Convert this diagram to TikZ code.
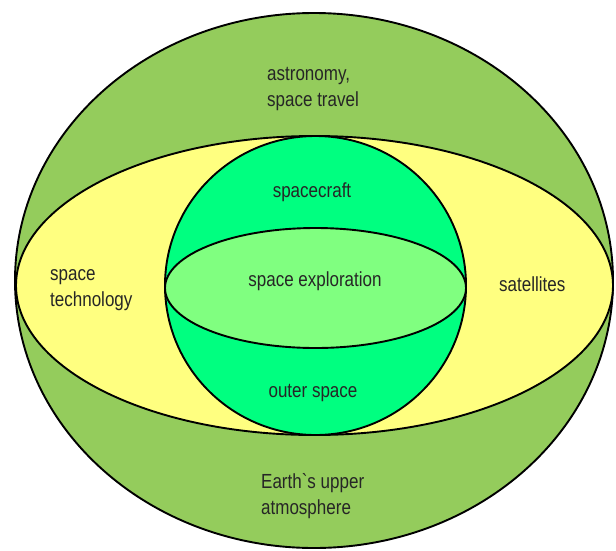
\documentclass[tikz,border=0pt]{standalone}
\usepackage{fontspec}
\usepackage{graphicx}
\setmainfont{Liberation Sans}[Ligatures=TeXOff]
\usetikzlibrary{shapes.geometric}
\definecolor{outergreen}{RGB}{148,204,92}
\definecolor{paleyellow}{RGB}{255,255,128}
\definecolor{springg}{RGB}{0,255,128}
\definecolor{lightg}{RGB}{128,255,128}
\newcommand{\vtext}[1]{\scalebox{1}[1.2]{\begin{tabular}[t]{@{}l@{}}#1\end{tabular}}}
\tikzset{
  region/.style={ellipse, draw=black, line width=1.9pt, inner sep=0pt},
  lbl/.style={font=\fontsize{17}{21.7}\selectfont, text=black!85, inner sep=0pt}
}
\begin{document}
\begin{tikzpicture}[x=1pt,y=-1pt]
\useasboundingbox (0,0) rectangle (616,550);
\node[region, fill=outergreen, minimum width=598pt, minimum height=535pt] (outer) at (314,280.5) {};
\node[region, fill=paleyellow, minimum width=597pt, minimum height=299pt] (tech) at (314.5,285.5) {};
\node[region, fill=springg, minimum width=301pt, minimum height=299pt] (craft) at (315.5,285.5) {};
\node[region, fill=lightg, minimum width=301pt, minimum height=120pt] (explore) at (315.5,288) {};
\node[lbl, anchor=base west] (astro) at (267,80) {\vtext{astronomy,\\space travel}};
\node[lbl, anchor=base] (spacecraft) at (312,197) {\vtext{spacecraft}};
\node[lbl, anchor=base] (exploration) at (315,286) {\vtext{space exploration}};
\node[lbl, anchor=base] (outerspace) at (313,397) {\vtext{outer space}};
\node[lbl, anchor=base west] (technology) at (50,280) {\vtext{space\\technology}};
\node[lbl, anchor=base west] (satellites) at (499,291) {\vtext{satellites}};
\node[lbl, anchor=base west] (earth) at (261,488) {\vtext{Earth`s upper\\atmosphere}};
\end{tikzpicture}
\end{document}
